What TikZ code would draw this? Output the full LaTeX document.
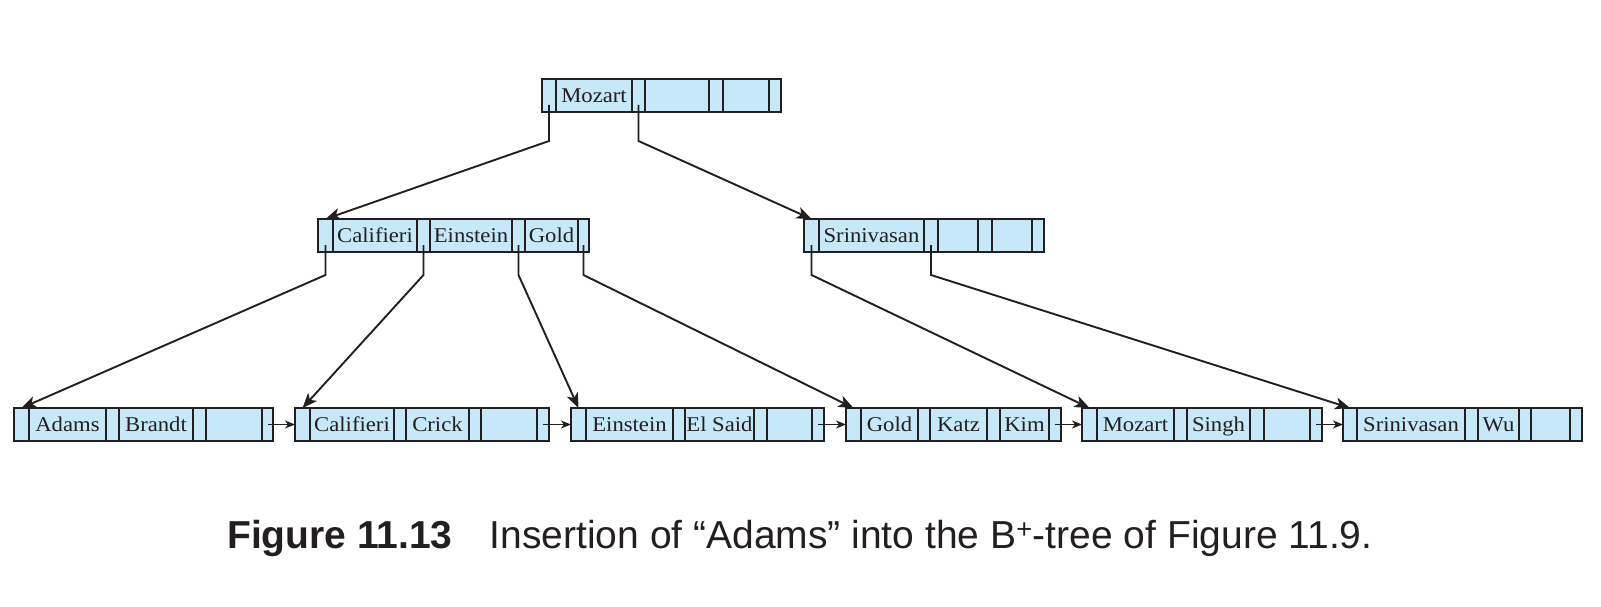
\documentclass[tikz,border=0pt]{standalone}
\usepackage{fontspec}
\setmainfont{Liberation Serif}[FakeStretch=1.08]
\newfontfamily\capfont{Liberation Sans}
\usetikzlibrary{arrows.meta}
\definecolor{cellblue}{RGB}{198,232,248}
\definecolor{ink}{RGB}{35,31,32}
\tikzset{
  cellbox/.style={draw=ink, fill=cellblue, line width=1.3pt, inner sep=0pt, outer sep=0pt,
    font=\fontsize{21}{25}\selectfont, text=ink, text height=16.5pt, text depth=2.5pt},
  outerbox/.style={draw=ink, line width=2.4pt},
  ptrarrow/.style={draw=ink, line width=1.9pt, -{Stealth[length=15pt,width=12pt,inset=4pt]}},
  nextarrow/.style={draw=ink, line width=1.6pt, -{Stealth[length=10pt,width=8pt,inset=3pt]}},
}
\newcommand\cellnode[4]{%
  \node[cellbox, minimum width={(#3-#2)*1pt}, minimum height={(\yb-\ya)*1pt}]
    (#1) at ({(#2+#3)/2},{(\ya+\yb)/2}) {#4};}
\newcommand\setrow[2]{\def\ya{#1}\def\yb{#2}}
\newcommand\bnode[9]{\def\bP{#1}\def\xA{#2}\def\xB{#3}\def\xC{#4}\def\xD{#5}%
  \def\xE{#6}\def\xF{#7}\def\xG{#8}\def\xH{#9}\bnodeB}
\newcommand\bnodeB[3]{%
  \cellnode{\bP p1}{\xA}{\xB}{}
  \cellnode{\bP k1}{\xB}{\xC}{#1}
  \cellnode{\bP p2}{\xC}{\xD}{}
  \cellnode{\bP k2}{\xD}{\xE}{#2}
  \cellnode{\bP p3}{\xE}{\xF}{}
  \cellnode{\bP k3}{\xF}{\xG}{#3}
  \cellnode{\bP p4}{\xG}{\xH}{}
  \draw[outerbox] (\bP p1.north west) rectangle (\bP p4.south east);}
\begin{document}
\begin{tikzpicture}[x=1pt,y=-1pt]
\useasboundingbox (0,0) rectangle (1601,607);
% root
\setrow{79}{112}
\bnode{r}{542}{556}{632}{645}{709}{723}{769}{781}{Mozart}{}{}
% internal nodes
\setrow{219}{252}
\bnode{a}{318}{333}{417}{430}{512}{525}{578}{589}{Califieri}{Einstein}{Gold}
\bnode{b}{804}{819}{924}{938}{978}{992}{1032}{1044}{Srinivasan}{}{}
% leaves
\setrow{408}{441}
\bnode{la}{14}{29}{106}{119}{193}{206}{262}{273}{Adams}{Brandt}{}
\bnode{lb}{295}{310}{394}{406}{469}{481}{537}{549}{Califieri}{Crick}{}
\bnode{lc}{571}{586}{673}{685}{754}{767}{812}{824}{Einstein}{El Said}{}
\bnode{ld}{846}{861}{918}{930}{987}{1000}{1049}{1061}{Gold}{Katz}{Kim}
\bnode{le}{1082}{1097}{1174}{1187}{1250}{1264}{1310}{1322}{Mozart}{Singh}{}
\bnode{lf}{1343}{1357}{1465}{1478}{1519}{1531}{1570}{1582}{Srinivasan}{Wu}{}
% root pointers
\draw[ptrarrow] ([yshift=7pt]rp1.south) -- ([yshift=-29pt]rp1.south) -- (ap1.north);
\draw[ptrarrow] ([yshift=7pt]rp2.south) -- ([yshift=-29pt]rp2.south) -- (bp1.north);
% internal pointers
\draw[ptrarrow] ([yshift=7pt]ap1.south) -- ([yshift=-23pt]ap1.south) -- (lap1.north);
\draw[ptrarrow] ([yshift=7pt]ap2.south) -- ([yshift=-23pt]ap2.south) -- (lbp1.north);
\draw[ptrarrow] ([yshift=7pt]ap3.south) -- ([yshift=-23pt]ap3.south) -- (lcp1.north);
\draw[ptrarrow] ([yshift=7pt]ap4.south) -- ([yshift=-23pt]ap4.south) -- (ldp1.north);
\draw[ptrarrow] ([yshift=7pt]bp1.south) -- ([yshift=-23pt]bp1.south) -- (lep1.north);
\draw[ptrarrow] ([yshift=7pt]bp2.south) -- ([yshift=-23pt]bp2.south) -- (lfp1.north);
% leaf chain
\draw[nextarrow] (lap4.center) -- (lbp1.west);
\draw[nextarrow] (lbp4.center) -- (lcp1.west);
\draw[nextarrow] (lcp4.center) -- (ldp1.west);
\draw[nextarrow] (ldp4.center) -- (lep1.west);
\draw[nextarrow] (lep4.center) -- (lfp1.west);
% caption
\node[anchor=base west, inner sep=0pt, text=ink, font=\capfont\fontsize{39}{45}\selectfont] (cap) at (227,548)
  {\bfseries Figure 11.13\hspace{0.95em}\mdseries Insertion of “Adams” into the B\textsuperscript{+}-tree of Figure 11.9.};
\end{tikzpicture}
\end{document}
